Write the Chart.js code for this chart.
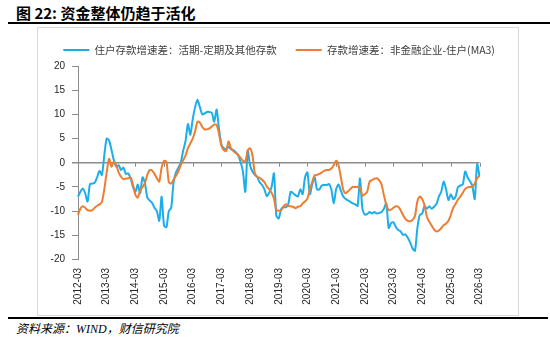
<!DOCTYPE html>
<html>
<head>
<meta charset="utf-8">
<script src="https://cdn.jsdelivr.net/npm/chart.js"></script>
<style>
  html, body { margin:0; padding:0; background:#fff; }
  body { width:550px; height:339px; position:relative; overflow:hidden; font-family:"Noto Sans CJK SC", sans-serif; }
  #title { position:absolute; left:16px; top:3px; font-size:15px; line-height:20px; font-weight:bold; color:#000; white-space:nowrap; }
  #rule1 { position:absolute; left:8px; top:22px; width:542px; height:2px; background:#000; }
  #frame { position:absolute; left:37px; top:27px; width:480px; height:287px; border:1px solid #d9d9d9; }
  #rule2 { position:absolute; left:8px; top:317px; width:540px; height:2px; background:#000; }
  #src { position:absolute; left:16px; top:321px; font-size:12px; line-height:17px; font-style:italic; color:#000; white-space:nowrap; font-family:"Liberation Serif","Noto Sans CJK SC",serif; }
  canvas { display:block; }
</style>
</head>
<body>
<div id="title">图 22: 资金整体仍趋于活化</div>
<div id="rule1"></div>
<div id="frame"><canvas id="c" width="480" height="287"></canvas></div>
<div id="rule2"></div>
<div id="src">资料来源：WIND，财信研究院</div>
<script>
// ---- data ----
const seriesNames = ['住户存款增速差：活期-定期及其他存款', '存款增速差：非金融企业-住户(MA3)'];

const tickLabels = ['2012-03','2013-03','2014-03','2015-03','2016-03','2017-03','2018-03',
  '2019-03','2020-03','2021-03','2022-03','2023-03','2024-03','2025-03','2026-03'];

// monthly categories 2012-03 … 2026-03
const categories = [];
(function(){ let y = 2012, m = 3; while (y < 2026 || (y === 2026 && m <= 3)) { categories.push(y + '-' + String(m).padStart(2,'0')); m++; if (m > 12) { m = 1; y++; } } })();

const householdDemandMinusTime = [
  -7.0,-6.0,-5.3,-6.3,-8.0,-4.4,-4.3,-4.1,-3.0,-1.7,-2.5,1.5,
  5.0,4.6,2.7,0.5,-0.8,-0.5,-1.5,-1.0,-2.3,-2.2,-3.2,-5.0,
  -6.0,-4.5,-6.3,-3.0,-4.2,-7.2,-7.8,-8.3,-9.3,-10.0,-12.0,-7.0,
  -13.0,-13.3,-10.0,-9.3,-4.0,-2.0,-1.0,0.0,2.5,4.5,8.0,5.8,
  9.0,11.5,13.0,11.5,10.0,10.2,10.5,10.5,10.3,8.5,11.0,7.0,
  3.8,3.0,2.8,3.3,2.8,2.6,2.2,1.6,0.2,-1.8,-6.0,2.5,
  -0.5,-1.8,-2.5,-3.0,-4.0,-4.6,-5.5,-6.9,-6.2,-5.0,-2.2,-11.0,
  -11.5,-9.6,-9.2,-9.2,-8.5,-6.0,-6.3,-6.7,-7.0,-5.5,-6.5,-3.0,
  -2.0,-6.5,-4.5,-3.0,-5.5,-5.5,-4.7,-4.6,-4.6,-4.4,-5.5,-8.4,
  -5.5,-4.5,-5.8,-7.0,-7.5,-7.8,-8.1,-8.4,-8.6,-8.9,-3.2,-9.5,
  -10.7,-10.6,-10.2,-10.5,-10.2,-10.5,-10.4,-10.2,-9.5,-8.4,-13.5,-12.5,
  -12.3,-13.3,-13.9,-14.2,-14.9,-14.8,-15.5,-16.5,-17.7,-18.2,-13.5,-10.8,
  -10.5,-9.0,-9.5,-9.0,-9.5,-9.1,-8.5,-7.0,-6.0,-3.9,-5.5,-7.7,
  -6.5,-7.5,-7.0,-5.0,-4.7,-4.5,-1.8,-3.0,-3.8,-4.8,-7.5,-0.3,
  -2.8
];

const corpMinusHouseholdMA3 = [
  -10.8,-9.5,-9.0,-9.3,-9.8,-9.9,-9.8,-9.3,-8.9,-8.6,-8.1,-5.5,
  -2.0,0.8,-0.8,0.2,-0.5,-2.0,-2.9,-3.4,-3.3,-3.2,-3.0,-4.5,
  -6.6,-7.2,-5.8,-5.0,-4.2,-2.5,-1.5,-1.6,-2.3,-3.2,-3.9,-1.0,
  0.4,0.2,-4.0,-4.3,-3.5,-2.7,-1.8,-0.5,0.5,1.5,3.0,4.0,
  5.0,6.5,8.5,8.3,7.4,6.9,6.9,7.1,7.5,7.9,7.8,6.0,
  3.5,2.6,2.4,4.4,3.0,2.4,2.0,1.6,1.0,0.4,0.2,2.5,
  3.0,1.5,-2.2,-2.9,-3.1,-3.5,-4.0,-4.9,-5.5,-6.2,-7.4,-9.8,
  -9.9,-9.8,-9.0,-8.6,-8.9,-9.0,-9.1,-9.4,-9.1,-9.0,-8.4,-8.0,
  -7.4,-5.5,-4.0,-2.6,-2.5,-2.3,-2.0,-1.7,-1.5,-1.5,-1.2,-0.5,
  0.4,-0.5,-3.0,-5.6,-6.3,-5.9,-5.4,-5.0,-5.0,-5.0,-5.2,-6.8,
  -6.5,-6.0,-3.9,-3.6,-3.3,-3.2,-3.6,-4.5,-6.7,-8.7,-9.8,-9.7,
  -9.3,-9.0,-9.1,-9.8,-10.8,-11.6,-12.0,-12.1,-11.8,-11.0,-8.0,-7.0,
  -7.5,-8.8,-11.2,-12.2,-13.0,-13.8,-14.2,-14.0,-13.5,-12.9,-12.6,-12.0,
  -10.8,-9.3,-8.5,-7.6,-7.0,-6.2,-5.4,-5.1,-5.0,-5.0,-4.3,-3.2,
  -2.7
];

const blueColor = '#1BAEEA';
const orangeColor = '#EE7D31';
const axisGrey = '#8c8c8c';

// ---- plugins ----
const legendFit = {
  id: 'legendFit',
  beforeInit(chart) {
    const lg = chart.legend;
    const orig = lg.fit;
    lg.fit = function() {
      const keepW = this.maxWidth;
      this.maxWidth = 3000;
      orig.call(this);
      this.maxWidth = keepW;
      this.width = keepW;
      this.height = 38;
    };
  },
  afterLayout(chart) {
    const lg = chart.legend;
    lg.left = 25.3 - 19; lg.right = 3000; lg.width = lg.right - lg.left;
    lg.top = -19 + 22 - 5.25;
  }
};

const zeroTicks = {
  id: 'zeroTicks',
  beforeDatasetsDraw(chart) {
    const { ctx, scales: { x, y } } = chart;
    const y0 = y.getPixelForValue(0);
    ctx.save();
    ctx.strokeStyle = axisGrey;
    ctx.lineWidth = 1;
    tickLabels.forEach(l => {
      const idx = categories.indexOf(l);
      if (idx < 0) return;
      const px = Math.round(x.getPixelForValue(idx)) + 0.5;
      ctx.beginPath(); ctx.moveTo(px, y0); ctx.lineTo(px, y0 + 4); ctx.stroke();
    });
    ctx.restore();
  }
};

Chart.defaults.font.family = '"Liberation Sans", Arial, sans-serif';

new Chart(document.getElementById('c'), {
  type: 'line',
  data: {
    labels: categories,
    datasets: [
      { label: seriesNames[0], data: householdDemandMinusTime, borderColor: blueColor, backgroundColor: blueColor,
        borderWidth: 2, pointRadius: 0, tension: 0.25, order: 2 },
      { label: seriesNames[1], data: corpMinusHouseholdMA3, borderColor: orangeColor, backgroundColor: orangeColor,
        borderWidth: 2, pointRadius: 0, tension: 0.25, order: 1 }
    ]
  },
  options: {
    responsive: false,
    animation: false,
    devicePixelRatio: 1,
    layout: { padding: { left: 0, right: 38.5, top: 0, bottom: 0 } },
    plugins: {
      legend: {
        position: 'top',
        align: 'start',
        labels: {
          boxWidth: 26, boxHeight: 2, padding: 19,
          color: '#404040',
          font: { family: '"Noto Sans CJK SC", sans-serif', size: 10.5 },
          sort: (a, b) => a.datasetIndex - b.datasetIndex,
          generateLabels(chart) {
            const items = Chart.defaults.plugins.legend.labels.generateLabels(chart);
            items.forEach(it => { it.lineWidth = 0; it.strokeStyle = 'rgba(0,0,0,0)'; });
            return items;
          }
        }
      },
      tooltip: { enabled: false }
    },
    scales: {
      x: {
        type: 'category',
        offset: false,
        grid: { display: false, drawTicks: false },
        border: { display: false },
        ticks: {
          autoSkip: false, minRotation: 90, maxRotation: 90, padding: 8.5,
          color: '#262626', font: { size: 10 },
          callback: function(value, index) { const l = categories[index]; return tickLabels.includes(l) ? l : null; }
        },
        afterFit(s) { s.height = 55.5; }
      },
      y: {
        min: -20, max: 20,
        ticks: { stepSize: 5, padding: 7, color: '#262626', font: { size: 10 } },
        grid: {
          color: c => (c.tick && c.tick.value === 0) ? axisGrey : 'rgba(0,0,0,0)',
          lineWidth: c => (c.tick && c.tick.value === 0) ? 1.5 : 1,
          tickColor: axisGrey, tickLength: 6, drawOnChartArea: true
        },
        border: { display: true, color: axisGrey, width: 1 },
        afterFit(s) { s.width = 40; }
      }
    }
  },
  plugins: [legendFit, zeroTicks]
});
</script>
</body>
</html>
